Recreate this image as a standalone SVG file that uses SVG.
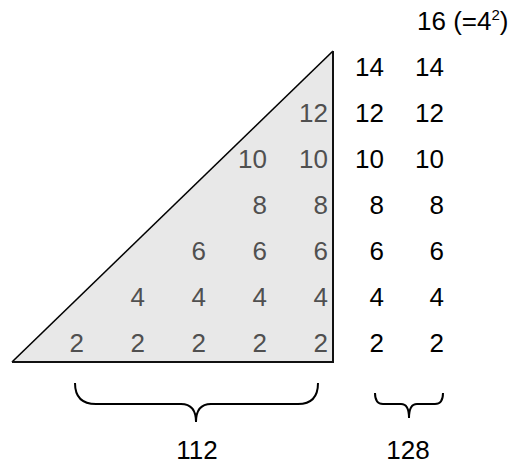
<svg xmlns="http://www.w3.org/2000/svg" width="510" height="466" viewBox="0 0 510 466">
<style>
text{font-family:"Liberation Sans",Arial,sans-serif;font-size:26px}
.g{fill:#505050;text-anchor:end}
.k{fill:#000;text-anchor:end}
.c{fill:#000;text-anchor:middle}
.br{fill:none;stroke:#000;stroke-width:2}
</style>
<rect width="510" height="466" fill="#fff"/>
<g id="triangle">
<polygon points="12,362 333,51 333,362" fill="#e8e8e8" stroke="none"/>
<line x1="12" y1="362" x2="333" y2="51" stroke="#000" stroke-width="1.6"/>
<polyline points="12,362 333,362 333,51" fill="none" stroke="#111" stroke-width="2"/>
</g>
<g id="inner">
<text class="g" x="84" y="352">2</text>
<text class="g" x="145" y="352">2</text>
<text class="g" x="206" y="352">2</text>
<text class="g" x="267" y="352">2</text>
<text class="g" x="328" y="352">2</text>
<text class="g" x="145" y="306">4</text>
<text class="g" x="206" y="306">4</text>
<text class="g" x="267" y="306">4</text>
<text class="g" x="328" y="306">4</text>
<text class="g" x="206" y="260">6</text>
<text class="g" x="267" y="260">6</text>
<text class="g" x="328" y="260">6</text>
<text class="g" x="267" y="214">8</text>
<text class="g" x="328" y="214">8</text>
<text class="g" x="267" y="168">10</text>
<text class="g" x="328" y="168">10</text>
<text class="g" x="328" y="122">12</text>
</g>
<g id="colA">
<text class="k" x="384" y="352">2</text>
<text class="k" x="384" y="306">4</text>
<text class="k" x="384" y="260">6</text>
<text class="k" x="384" y="214">8</text>
<text class="k" x="384" y="168">10</text>
<text class="k" x="384" y="122">12</text>
<text class="k" x="384" y="76">14</text>
</g>
<g id="colB">
<text class="k" x="444" y="352">2</text>
<text class="k" x="444" y="306">4</text>
<text class="k" x="444" y="260">6</text>
<text class="k" x="444" y="214">8</text>
<text class="k" x="444" y="168">10</text>
<text class="k" x="444" y="122">12</text>
<text class="k" x="444" y="76">14</text>
<text x="417" y="30">16 (=4<tspan font-size="15" dy="-10">2</tspan><tspan dy="10">)</tspan></text>
</g>
<g id="braces">
<path class="br" d="M75,383 Q75,404 96,404 H181 Q196,404 196,422 Q196,404 211,404 H298 Q318,404 318,383"/>
<path class="br" d="M375,393 Q375,404 383,404 H401 Q409,404 409,418 Q409,404 417,404 H435 Q443,404 443,393"/>
</g>
<g id="labels">
<text class="c" x="197" y="459">112</text>
<text class="c" x="408" y="459">128</text>
</g>
</svg>
